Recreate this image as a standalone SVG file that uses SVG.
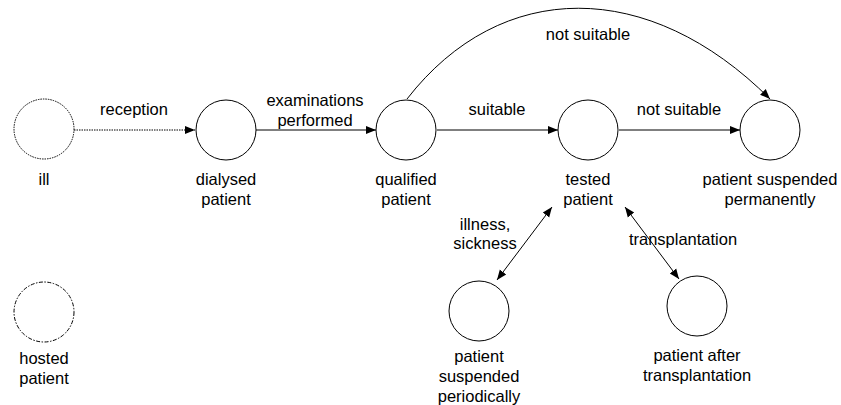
<svg xmlns="http://www.w3.org/2000/svg" width="841" height="405" viewBox="0 0 841 405">
<style>
  .st { fill: #fff; stroke: #000; stroke-width: 1; }
  .dot { stroke-dasharray: 1.5 1; }
  .dashdot { stroke-dasharray: 4 1.5 1.5 1.5; }
  .lbl { font-family: "Liberation Sans", Arial, Helvetica, sans-serif; font-size: 16.5px; fill: #000; text-anchor: middle; }
  .edge { fill: none; stroke: #000; stroke-width: 1; }
</style>
<defs>
  <marker id="arr" viewBox="0 0 10 10" refX="10" refY="5" markerWidth="10" markerHeight="10" markerUnits="userSpaceOnUse" orient="auto-start-reverse">
    <path d="M0,1 L10,5 L0,9 Z" fill="#000"/>
  </marker>
</defs>
<rect width="841" height="405" fill="#fff"/>

<g id="connectors">
  <line class="edge dot" x1="74" y1="130" x2="195" y2="130" marker-end="url(#arr)"/>
  <line class="edge" x1="256" y1="130" x2="376" y2="130" marker-end="url(#arr)"/>
  <line class="edge" x1="437" y1="130" x2="558" y2="130" marker-end="url(#arr)"/>
  <line class="edge" x1="619" y1="130" x2="740" y2="130" marker-end="url(#arr)"/>
  <path class="edge" d="M407,99 C501,-22 649,-22 770,99" marker-end="url(#arr)"/>
  <line class="edge" x1="552" y1="207" x2="497" y2="280" marker-start="url(#arr)" marker-end="url(#arr)"/>
  <line class="edge" x1="625" y1="207" x2="679" y2="279" marker-start="url(#arr)" marker-end="url(#arr)"/>
  <text class="lbl" x="134" y="115">reception</text>
  <text class="lbl" x="315" y="106">examinations</text>
  <text class="lbl" x="315" y="126">performed</text>
  <text class="lbl" x="497" y="115">suitable</text>
  <text class="lbl" x="679" y="115">not suitable</text>
  <text class="lbl" x="588" y="40">not suitable</text>
  <text class="lbl" x="485" y="230">illness,</text>
  <text class="lbl" x="485" y="249">sickness</text>
  <text class="lbl" x="683" y="245">transplantation</text>
</g>

<g id="ill">
  <circle class="st dot" cx="44" cy="129" r="30"/>
  <text class="lbl" x="44" y="185">ill</text>
</g>
<g id="hosted-patient">
  <circle class="st dashdot" cx="44" cy="312" r="30"/>
  <text class="lbl" x="44" y="364">hosted</text>
  <text class="lbl" x="44" y="384">patient</text>
</g>
<g id="dialysed-patient">
  <circle class="st" cx="226" cy="130" r="30"/>
  <text class="lbl" x="226" y="185">dialysed</text>
  <text class="lbl" x="226" y="205">patient</text>
</g>
<g id="qualified-patient">
  <circle class="st" cx="406" cy="130" r="30"/>
  <text class="lbl" x="406" y="185">qualified</text>
  <text class="lbl" x="406" y="205">patient</text>
</g>
<g id="tested-patient">
  <circle class="st" cx="588" cy="130" r="30"/>
  <text class="lbl" x="588" y="185">tested</text>
  <text class="lbl" x="588" y="205">patient</text>
</g>
<g id="patient-suspended-permanently">
  <circle class="st" cx="770" cy="130" r="30"/>
  <text class="lbl" x="770" y="185">patient suspended</text>
  <text class="lbl" x="770" y="205">permanently</text>
</g>
<g id="patient-suspended-periodically">
  <circle class="st" cx="479" cy="311" r="30"/>
  <text class="lbl" x="479" y="362">patient</text>
  <text class="lbl" x="479" y="382">suspended</text>
  <text class="lbl" x="479" y="402">periodically</text>
</g>
<g id="patient-after-transplantation">
  <circle class="st" cx="697" cy="306" r="30"/>
  <text class="lbl" x="697" y="361">patient after</text>
  <text class="lbl" x="697" y="381">transplantation</text>
</g>
</svg>
